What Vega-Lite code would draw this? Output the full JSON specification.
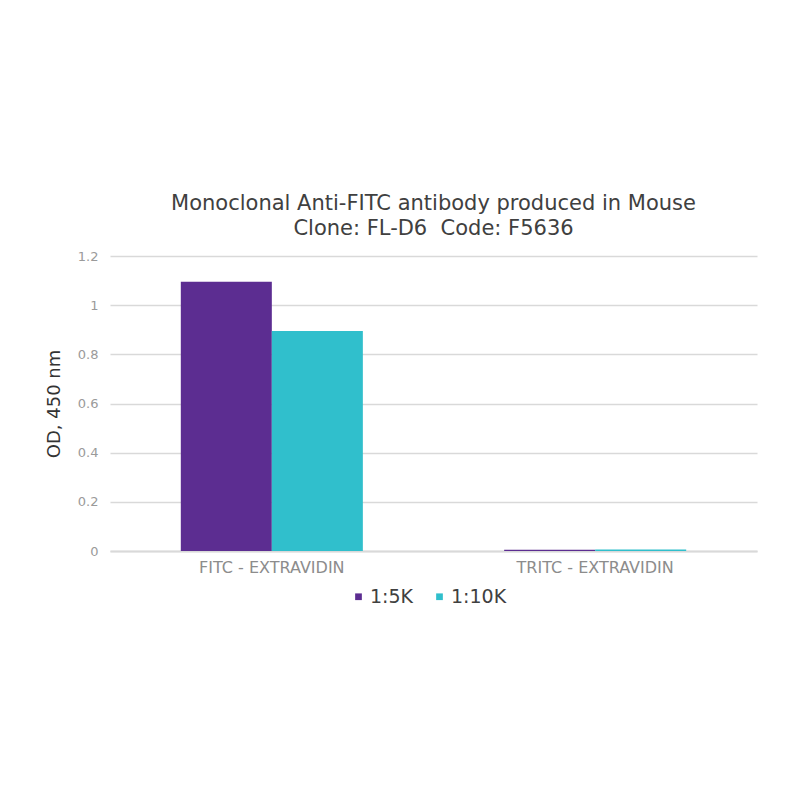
{
  "$schema": "https://vega.github.io/schema/vega-lite/v6.json",
  "autosize": "none",
  "width": 647,
  "height": 295,
  "padding": {"left": 110, "top": 256, "right": 43, "bottom": 249},
  "background": "white",
  "title": {
    "text": ["Monoclonal Anti-FITC antibody produced in Mouse", "Clone: FL-D6\u00a0\u00a0Code: F5636"],
    "font": "DejaVu Sans",
    "fontSize": 21,
    "fontWeight": "normal",
    "color": "#404040",
    "lineHeight": 25,
    "offset": 11,
    "anchor": "middle"
  },
  "data": {
    "values": [
      {"target": "FITC - EXTRAVIDIN", "dilution": "1:5K", "od": 1.095},
      {"target": "FITC - EXTRAVIDIN", "dilution": "1:10K", "od": 0.895},
      {"target": "TRITC - EXTRAVIDIN", "dilution": "1:5K", "od": 0.005},
      {"target": "TRITC - EXTRAVIDIN", "dilution": "1:10K", "od": 0.006}
    ]
  },
  "mark": {"type": "bar"},
  "encoding": {
    "x": {
      "field": "target",
      "type": "nominal",
      "sort": null,
      "scale": {"paddingInner": 0.437, "paddingOuter": 0.219},
      "axis": {
        "title": null,
        "labelAngle": 0,
        "labelFont": "DejaVu Sans",
        "labelFontSize": 16,
        "labelColor": "#8c8c8c",
        "labelPadding": 8,
        "ticks": false,
        "domainColor": "#d9d9d9",
        "domainWidth": 2
      }
    },
    "xOffset": {"field": "dilution", "type": "nominal", "sort": ["1:5K", "1:10K"], "scale": {"paddingInner": 0, "paddingOuter": 0}},
    "y": {
      "field": "od",
      "type": "quantitative",
      "scale": {"domain": [0, 1.2]},
      "axis": {
        "title": "OD, 450 nm",
        "titleFont": "DejaVu Sans",
        "titleFontSize": 18,
        "titleFontWeight": "normal",
        "titleColor": "#333333",
        "titlePadding": 14,
        "values": [0, 0.2, 0.4, 0.6, 0.8, 1, 1.2],
        "format": "~g",
        "labelFont": "DejaVu Sans",
        "labelFontSize": 13,
        "labelColor": "#9a9a9a",
        "labelPadding": 12,
        "ticks": false,
        "domain": false,
        "gridColor": "#d9d9d9",
        "gridWidth": 1.5
      }
    },
    "color": {
      "field": "dilution",
      "type": "nominal",
      "sort": ["1:5K", "1:10K"],
      "scale": {"domain": ["1:5K", "1:10K"], "range": ["#5c2d91", "#30bfcc"]},
      "legend": {
        "title": null,
        "orient": "none",
        "legendX": 239,
        "legendY": 331,
        "direction": "horizontal",
        "symbolType": "square",
        "symbolSize": 45,
        "labelFont": "DejaVu Sans",
        "labelFontSize": 19,
        "labelColor": "#404040",
        "labelOffset": 2,
        "columnPadding": 16
      }
    }
  },
  "config": {"view": {"stroke": null}}
}
